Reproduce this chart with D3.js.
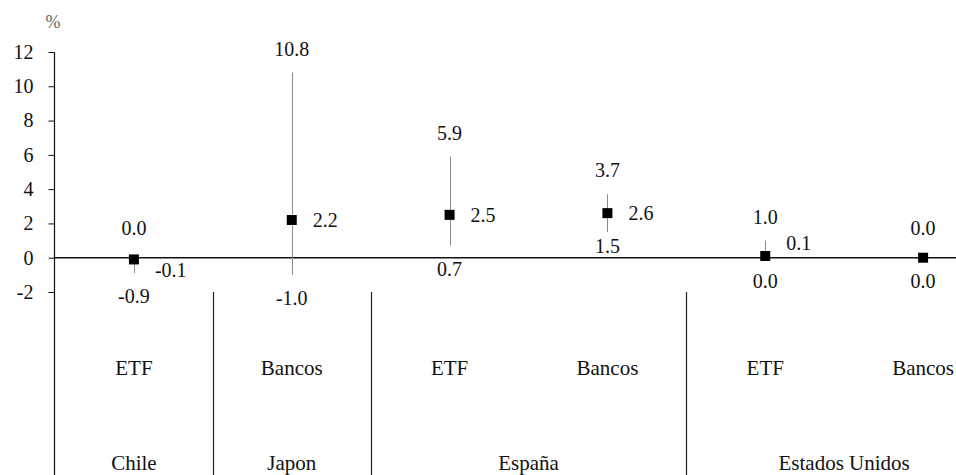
<!DOCTYPE html>
<html>
<head>
<meta charset="utf-8">
<script src="https://cdn.jsdelivr.net/npm/d3@7"></script>
</head>
<body style="margin:0;background:#fff">
<svg id="chart" width="956" height="475" style="display:block"></svg>
<script>
// Instrument types per column, and the country each column belongs to
const categories = ["ETF", "Bancos", "ETF", "Bancos", "ETF", "Bancos"];
const countries = ["Chile", "Japon", "España", "España", "Estados Unidos", "Estados Unidos"];
const groups = ["Chile", "Japon", "España", "Estados Unidos"];

// Central value and range (high / low) per column, in %
const midValues = [-0.1, 2.2, 2.5, 2.6, 0.1, 0.0];
const highValues = [0.0, 10.8, 5.9, 3.7, 1.0, 0.0];
const lowValues = [-0.9, -1.0, 0.7, 1.5, 0.0, 0.0];
const midLabelShown = [true, true, true, true, true, false];

const yTicks = [-2, 0, 2, 4, 6, 8, 10, 12];

const FONT_STACK = "'Liberation Serif', 'Times New Roman', Tinos, serif";
const svg = d3.select("#chart");
const W = 956, H = 475;

const x = d3.scaleBand()
  .domain(d3.range(categories.length))
  .range([55, 1002])
  .padding(0);

const y = d3.scaleLinear()
  .domain([-2, 12])
  .range([292, 52]);

// one decimal, plain hyphen for negatives
const fmt = v => v.toFixed(1);
const cx = i => x(i) + x.bandwidth() / 2;
const idx = d3.range(categories.length);
const y0 = y(0);

const serif = sel => sel.attr("font-family", FONT_STACK);

// Y axis
const yAxis = d3.axisLeft(y).tickValues(yTicks).tickSize(6).tickSizeOuter(0)
  .tickFormat(d => String(d));
const gy = svg.append("g")
  .attr("transform", "translate(54.5,0)")
  .call(yAxis);
gy.attr("font-family", null).attr("font-size", null);
gy.select(".domain").remove();
gy.selectAll(".tick line").attr("stroke", "#111");
gy.selectAll(".tick text")
  .attr("x", -21)
  .attr("font-size", 20)
  .attr("fill", "#111")
  .call(serif);

// Axis spine running through the category area
svg.append("line")
  .attr("x1", 54.5).attr("x2", 54.5)
  .attr("y1", y(12)).attr("y2", H)
  .attr("stroke", "#111").attr("stroke-width", 1.2);

// Unit label
svg.append("text")
  .attr("x", 53).attr("y", 22)
  .attr("text-anchor", "middle").attr("dy", "0.35em")
  .attr("font-size", 18)
  .attr("fill", "#666")
  .call(serif)
  .text("%");

// Zero line
svg.append("line")
  .attr("x1", 54.5).attr("x2", W)
  .attr("y1", y0).attr("y2", y0)
  .attr("stroke", "#111").attr("stroke-width", 1.4);

// Group separators below the plot
const sepIdx = idx.filter(i => i > 0 && countries[i] !== countries[i - 1]);
svg.selectAll("line.sep").data(sepIdx).enter().append("line")
  .attr("class", "sep")
  .attr("x1", d => Math.round(x(d)) + 0.5).attr("x2", d => Math.round(x(d)) + 0.5)
  .attr("y1", y(-2)).attr("y2", H)
  .attr("stroke", "#222").attr("stroke-width", 1.2);

// High-low ranges
svg.selectAll("line.range").data(idx).enter().append("line")
  .attr("class", "range")
  .attr("x1", d => Math.round(cx(d)) + 0.5).attr("x2", d => Math.round(cx(d)) + 0.5)
  .attr("y1", d => y(highValues[d])).attr("y2", d => y(lowValues[d]))
  .attr("stroke", "#8a8a8a").attr("stroke-width", 1);

// Central markers
const ms = 10;
svg.selectAll("rect.mark").data(idx).enter().append("rect")
  .attr("class", "mark")
  .attr("x", d => cx(d) - ms / 2).attr("y", d => y(midValues[d]) - ms / 2)
  .attr("width", ms).attr("height", ms)
  .attr("fill", "#000");

const numStyle = sel => sel
  .call(serif)
  .attr("font-size", 20)
  .attr("fill", "#111")
  .attr("dy", "0.35em");

// High labels (a touch higher when sitting on the zero line)
svg.selectAll("text.hi").data(idx).enter().append("text")
  .attr("class", "hi")
  .attr("x", d => cx(d))
  .attr("y", d => y(highValues[d]) - (highValues[d] === 0 ? 30 : 24))
  .attr("text-anchor", "middle")
  .call(numStyle)
  .text(d => fmt(highValues[d]));

// Low labels, lifted above the zero line when they would sit on it
svg.selectAll("text.lo").data(idx).enter().append("text")
  .attr("class", "lo")
  .attr("x", d => cx(d))
  .attr("y", d => {
    const yy = y(lowValues[d]) + 23;
    return Math.abs(yy - y0) < 9 ? y0 - 12 : yy;
  })
  .attr("text-anchor", "middle")
  .call(numStyle)
  .text(d => fmt(lowValues[d]));

// Central value labels, nudged off the zero line when close to it
svg.selectAll("text.mid").data(idx.filter(d => midLabelShown[d])).enter().append("text")
  .attr("class", "mid")
  .attr("x", d => cx(d) + 21)
  .attr("y", d => {
    const v = midValues[d];
    let yy = y(v);
    if (Math.abs(v) < 0.5) yy += v < 0 ? 11 : -13;
    return yy;
  })
  .attr("text-anchor", "start")
  .call(numStyle)
  .text(d => fmt(midValues[d]));

const catStyle = sel => sel
  .call(serif)
  .attr("font-size", 21)
  .attr("fill", "#111")
  .attr("text-anchor", "middle")
  .attr("dy", "0.35em");

// Instrument labels
svg.selectAll("text.cat").data(idx).enter().append("text")
  .attr("class", "cat")
  .attr("x", d => cx(d)).attr("y", 368)
  .call(catStyle)
  .text(d => categories[d]);

// Country labels, centred under their columns
const groupSpan = groups.map(g => {
  const cols = idx.filter(i => countries[i] === g);
  const x0 = x(cols[0]);
  const x1 = x(cols[cols.length - 1]) + x.bandwidth();
  return { g, c: (x0 + x1) / 2 };
});
svg.selectAll("text.grp").data(groupSpan).enter().append("text")
  .attr("class", "grp")
  .attr("x", d => d.c).attr("y", 463)
  .call(catStyle)
  .text(d => d.g);
</script>
</body>
</html>
